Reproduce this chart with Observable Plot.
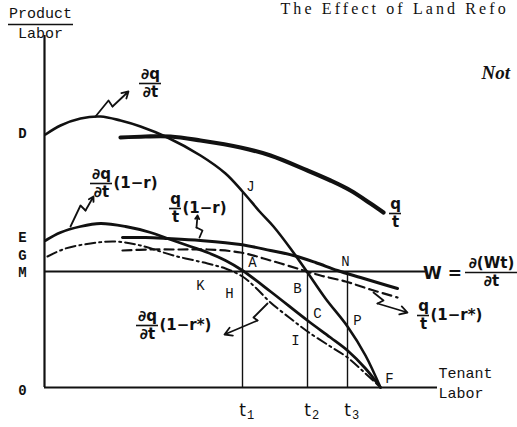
<!DOCTYPE html>
<html>
<head>
<meta charset="utf-8">
<script src="https://cdn.jsdelivr.net/npm/d3@7"></script>
<script src="https://cdn.jsdelivr.net/npm/@observablehq/plot@0.6"></script>
<style>
  html, body { margin: 0; padding: 0; background: #fff; }
  #chart svg { display: block; }
  .running-head text { letter-spacing: 3.1px; }
</style>
</head>
<body>
<div id="chart"></div>
<script>
// Tenant labor (x) against product per unit of labor (y), arbitrary units.

// Marginal product ∂q/∂t
const mpX = [1, 16, 36, 56, 76, 96, 123, 156, 181, 198, 216, 229, 246, 263, 281, 303, 321, 336];
const mpY = [253, 262, 269, 271, 267, 261, 250, 232, 214, 196, 175, 161, 139, 115, 89, 61, 32, 0];

// Average product q/t
const apX = [76, 101, 126, 156, 196, 226, 263, 286, 306, 326, 339];
const apY = [250, 251, 251, 247, 240, 232, 217, 207, 197, 184, 175];

// Tenant's share of the marginal product, ∂q/∂t (1−r)
const mpShareX = [1, 16, 36, 56, 81, 106, 123, 146, 163, 181, 198, 226, 263, 286, 303, 321, 336];
const mpShareY = [147, 155, 161, 164, 161, 155, 149, 141, 135, 127, 117, 96, 67, 50, 37, 19, 0];

// Tenant's share of the average product, q/t (1−r)
const apShareX = [78, 101, 123, 156, 196, 226, 249, 271, 293, 316, 336, 353];
const apShareY = [150, 150, 149, 147, 143, 137, 132, 125, 117, 110, 104, 99];

// After reform, ∂q/∂t (1−r*)
const mpReformX = [3, 21, 46, 71, 96, 129, 163, 181, 198, 211, 226, 246, 263, 286, 303, 321, 336];
const mpReformY = [131, 139, 144, 146, 142, 132, 124, 119, 111, 100, 85, 69, 56, 41, 30, 14, 0];

// After reform, q/t (1−r*)
const apReformX = [78, 106, 136, 163, 196, 226, 256, 276, 301, 326, 353];
const apReformY = [137, 138, 138, 138, 135, 127, 118, 112, 106, 98, 90];

// Wage line W = ∂(Wt)/∂t
const wage = 116;
const wageEnd = 381;

// Labor levels t1, t2, t3 and their labels
const tNames = ["t", "t", "t"];
const tSubs = ["1", "2", "3"];
const tValues = [198, 263, 303];
const tTops = [196, 115, 116];

// Vertical axis letters
const yTickLabels = ["D", "E", "G", "M", "0"];
const yTickValues = [254, 150, 132, 115, -3];

// Lettered points
const pointNames = ["J", "A", "B", "C", "H", "K", "I", "P", "F", "N"];
const pointX = [206, 208, 253, 273, 185, 156, 251, 313, 345, 301];
const pointY = [201, 125, 99, 74, 94, 102, 47, 67, 9, 126];

// Curve labels written as fractions
const fracNum = ["∂q", "∂q", "q", "∂q", "q", "q", "∂(Wt)"];
const fracDen = ["∂t", "∂t", "t", "∂t", "t", "t", "∂t"];
const fracX = [106, 57, 131, 103, 379, 351, 447];
const fracY = [304, 204, 179, 62, 72, 174, 115];
const fracSuffix = ["", "(1−r)", "(1−r)", "(1−r*)", "(1−r*)", "", ""];

// Squiggly pointers from labels to curves
const pointerPaths = [
  [[51, 271], [64, 287], [68, 281], [84, 296]],
  [[26, 161], [36, 182], [41, 177], [49, 191]],
  [[155, 150], [158, 157], [152, 160], [153, 172]],
  [[223, 84], [209, 70], [213, 67], [180, 53]],
  [[329, 95], [339, 87], [333, 84], [363, 75]]
];

// Page furniture visible at the top right
const runningHead = "The Effect of Land Refo";
const noteHead = "Not";

const toRows = (xs, ys) => xs.map((x, i) => ({x, y: ys[i]}));

const mp = toRows(mpX, mpY);
const ap = toRows(apX, apY);
const mpShare = toRows(mpShareX, mpShareY);
const apShare = toRows(apShareX, apShareY);
const mpReform = toRows(mpReformX, mpReformY);
const apReform = toRows(apReformX, apReformY);

const fracs = fracNum.map((n, i) => {
  const half = n.length * 5 + 1;
  return {num: n, den: fracDen[i], x: fracX[i], y: fracY[i], x1: fracX[i] - half, x2: fracX[i] + half, suffix: fracSuffix[i]};
});
const points = pointNames.map((n, i) => ({name: n, x: pointX[i], y: pointY[i]}));
const ticks = yTickLabels.map((n, i) => ({name: n, y: yTickValues[i]}));
const tRows = tValues.map((v, i) => ({name: tNames[i], sub: tSubs[i], x: v, top: tTops[i]}));

const squiggles = pointerPaths.flatMap((p, k) => p.slice(0, -1).map(([x, y]) => ({k, x, y})));
const heads = pointerPaths.map(p => ({x1: p[p.length - 2][0], y1: p[p.length - 2][1], x2: p[p.length - 1][0], y2: p[p.length - 1][1]}));

const hand = "'DejaVu Sans', sans-serif";
const mono = "'Liberation Mono', 'DejaVu Sans Mono', monospace";
const serif = "'Liberation Serif', 'DejaVu Serif', serif";
const ink = "#111";

const chart = Plot.plot({
  width: 517,
  height: 427,
  margin: 0,
  x: {domain: [-44, 473], range: [0, 517], axis: null},
  y: {domain: [-40, 387], range: [427, 0], axis: null},
  style: {background: "#fff", color: ink},
  marks: [
    // axes
    Plot.ruleX([0], {y1: 0, y2: 352, stroke: ink, strokeWidth: 2.2}),
    Plot.ruleY([0], {x1: 0, x2: 393, stroke: ink, strokeWidth: 2.2}),
    // wage line
    Plot.ruleY([wage], {x1: 0, x2: wageEnd, stroke: ink, strokeWidth: 2}),
    // labor levels
    Plot.ruleX(tRows, {x: "x", y1: 0, y2: "top", stroke: ink, strokeWidth: 1.4}),
    // curves
    Plot.line(mp, {x: "x", y: "y", curve: "catmull-rom", stroke: ink, strokeWidth: 2.6}),
    Plot.line(ap, {x: "x", y: "y", curve: "catmull-rom", stroke: ink, strokeWidth: 4.2, strokeLinecap: "round"}),
    Plot.line(mpShare, {x: "x", y: "y", curve: "catmull-rom", stroke: ink, strokeWidth: 2.8}),
    Plot.line(apShare, {x: "x", y: "y", curve: "catmull-rom", stroke: ink, strokeWidth: 3, strokeLinecap: "round"}),
    Plot.line(mpReform, {x: "x", y: "y", curve: "catmull-rom", stroke: ink, strokeWidth: 2, strokeDasharray: "10,4,2,4"}),
    Plot.line(apReform, {x: "x", y: "y", curve: "catmull-rom", stroke: ink, strokeWidth: 2.2, strokeDasharray: "9,5"}),
    // pointers
    Plot.line(squiggles, {x: "x", y: "y", z: "k", stroke: ink, strokeWidth: 1.8}),
    Plot.arrow(heads, {x1: "x1", y1: "y1", x2: "x2", y2: "y2", stroke: ink, strokeWidth: 1.8, headLength: 7}),
    // fraction labels
    Plot.text(fracs, {x: "x", y: "y", text: "num", dy: -9, fontSize: 15, fontWeight: "bold", fontFamily: hand, fill: ink}),
    Plot.text(fracs, {x: "x", y: "y", text: "den", dy: 9, fontSize: 15, fontWeight: "bold", fontFamily: hand, fill: ink}),
    Plot.ruleY(fracs, {y: "y", x1: "x1", x2: "x2", stroke: ink, strokeWidth: 1.6}),
    Plot.text(fracs.filter(d => d.suffix), {x: "x2", y: "y", text: "suffix", dx: 1, textAnchor: "start", fontSize: 15, fontWeight: "bold", fontFamily: hand, fill: ink}),
    Plot.text(["W ="], {x: 398, y: 114, text: d => d, fontSize: 17, fontWeight: "bold", fontFamily: hand, fill: ink}),
    // axis letters
    Plot.text(ticks, {x: -22, y: "y", text: "name", fontSize: 14, fontWeight: "bold", fontFamily: mono, fill: ink}),
    Plot.text(points, {x: "x", y: "y", text: "name", fontSize: 14, fontFamily: mono, fill: ink}),
    Plot.text(tRows, {x: "x", y: -23, text: "name", fontSize: 17, fontFamily: hand, fill: ink}),
    Plot.text(tRows, {x: "x", y: -28, dx: 8, text: "sub", fontSize: 12, fontFamily: mono, fill: ink}),
    // axis titles
    Plot.text(["Product"], {x: -4, y: 374, text: d => d, fontSize: 15, fontFamily: mono, fill: ink}),
    Plot.ruleY([363], {x1: -36, x2: 29, stroke: ink, strokeWidth: 1.5}),
    Plot.text(["Labor"], {x: -4, y: 354, text: d => d, fontSize: 15, fontFamily: mono, fill: ink}),
    Plot.text(["Tenant"], {x: 394, y: 14, text: d => d, textAnchor: "start", fontSize: 15, fontFamily: mono, fill: ink}),
    Plot.text(["Labor"], {x: 394, y: -6, text: d => d, textAnchor: "start", fontSize: 15, fontFamily: mono, fill: ink}),
    // running head and note
    Plot.text([runningHead], {x: 236, y: 379, text: d => d, textAnchor: "start", fontSize: 16, fontFamily: serif, fill: ink, className: "running-head"}),
    Plot.text([noteHead], {x: 437, y: 315, text: d => d, textAnchor: "start", fontSize: 19, fontFamily: serif, fontStyle: "italic", fontWeight: "bold", fill: ink})
  ]
});

document.getElementById("chart").appendChild(chart);
</script>
</body>
</html>
